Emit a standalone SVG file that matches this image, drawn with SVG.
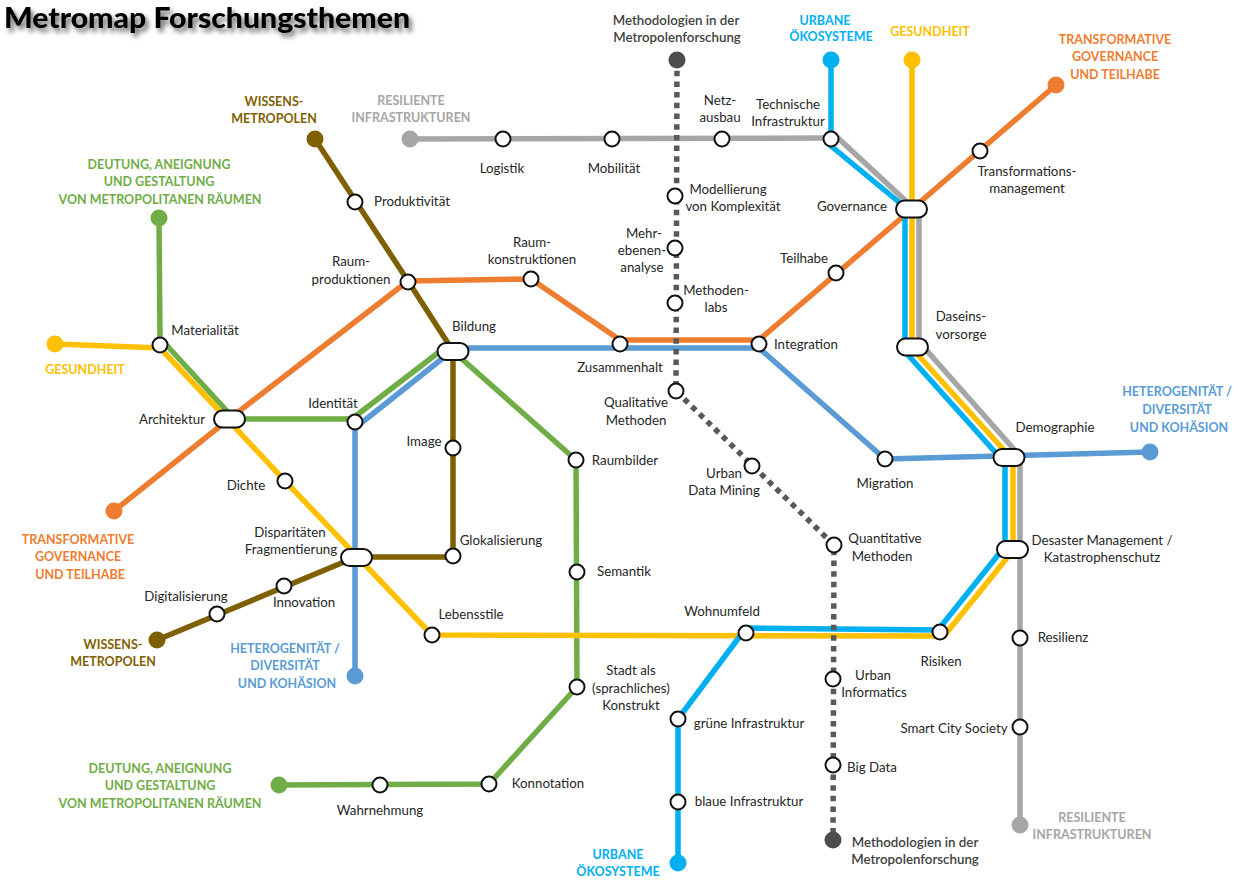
<svg xmlns="http://www.w3.org/2000/svg" width="1238" height="882" viewBox="0 0 1238 882">
<defs>
<style>
text{font-family:"Lato","Open Sans","Liberation Sans",sans-serif;font-size:13.3px;fill:#262626;text-anchor:middle}
.s{text-anchor:start}.e{text-anchor:end}
.b{font-weight:700;font-size:12.5px}
.ln{fill:none;stroke-width:5.5;stroke-linejoin:round}
.st{fill:#fff;stroke:#111;stroke-width:2}
.grey{stroke:#a6a6a6}.cy{stroke:#00b0f0}.ye{stroke:#ffc000}.or{stroke:#ed7d31}.bl{stroke:#5b9bd5}.gr{stroke:#70ad47}.br{stroke:#7f6000}
.dot{stroke:#595959;stroke-dasharray:5.5 5.2;stroke-width:5.5;fill:none}
.tg{fill:#a6a6a6}.tc{fill:#00b0f0}.ty{fill:#ffc000}.to{fill:#ed7d31}.tb{fill:#5b9bd5}.tgr{fill:#70ad47}.tbr{fill:#7f6000}
.td{font-weight:600;fill:#404040}
</style>
<filter id="sh" x="-5%" y="-30%" width="110%" height="170%"><feDropShadow dx="3" dy="4" stdDeviation="2.5" flood-color="#000" flood-opacity=".6"/></filter>
</defs>
<rect width="1238" height="882" fill="#fff"/>
<text x="4" y="28" class="s" style="font-size:28px;font-weight:900;fill:#000" filter="url(#sh)" textLength="406" lengthAdjust="spacingAndGlyphs">Metromap Forschungsthemen</text>
<g id="connectors">
<polyline class="ln or" points="1056,85 912,209 759,340 620,340 531,279 408,281 229,419 114,511"/>
<polyline class="ln br" points="315,139 408,281 453,351 453,557 356,557 157,640"/>
<polyline class="ln gr" points="159,218 160,338 226,410 229,419 355,419 357,415 443,349 453,351 463,360 576,460 577,687 489,784 279,785"/>
<polyline class="ln bl" points="1150,452 885,459 759,348 453,348 443,358 355,428 355,676"/>
<polyline class="ln grey" points="410,139 831,138 838,138 908,203 919,208 919,347 928,352 1012,447 1020,457 1020,825"/>
<polyline class="ln ye" points="912,60 912,347 918,355 1003,449 1013,458 1013,549 1007,558 944,636 432,635 285,481 229,421 160,348 55,344"/>
<polyline class="ln cy" points="831,60 831,146 900,203 905,209 905,347 908,355 995,452 1005,460 1005,549 998,555 938,630 746,628 678,719 678,863"/>
<polyline class="dot" points="677,60 676,391 834,545 833,840"/>
</g>
<g id="terminals">
<circle cx="677" cy="60" r="8.5" fill="#4d4d4d"/><circle cx="831" cy="60" r="8.5" fill="#00b0f0"/><circle cx="912" cy="60" r="8.5" fill="#ffc000"/><circle cx="1056" cy="85" r="8.5" fill="#ed7d31"/>
<circle cx="410" cy="139" r="8.5" fill="#a6a6a6"/><circle cx="315" cy="139" r="8.5" fill="#7f6000"/><circle cx="159" cy="218" r="8.5" fill="#70ad47"/><circle cx="55" cy="344" r="8.5" fill="#ffc000"/>
<circle cx="114" cy="511" r="8.5" fill="#ed7d31"/><circle cx="157" cy="640" r="8.5" fill="#7f6000"/><circle cx="355" cy="676" r="8.5" fill="#5b9bd5"/><circle cx="279" cy="785" r="8.5" fill="#70ad47"/>
<circle cx="678" cy="863" r="8.5" fill="#00b0f0"/><circle cx="833" cy="840" r="8.5" fill="#4d4d4d"/><circle cx="1020" cy="825" r="8.5" fill="#a6a6a6"/><circle cx="1150" cy="452" r="8.5" fill="#5b9bd5"/>
</g>
<g id="stations">
<circle class="st" cx="503" cy="139" r="7.5"/><circle class="st" cx="612" cy="139" r="7.5"/><circle class="st" cx="722" cy="139" r="7.5"/><circle class="st" cx="831" cy="139" r="7.5"/><circle class="st" cx="980" cy="151" r="7.5"/>
<circle class="st" cx="355" cy="202" r="7.5"/><circle class="st" cx="675" cy="196" r="7.5"/><circle class="st" cx="675" cy="248" r="7.5"/><circle class="st" cx="675" cy="303" r="7.5"/><circle class="st" cx="836" cy="273" r="7.5"/>
<circle class="st" cx="408" cy="282" r="7.5"/><circle class="st" cx="531" cy="279" r="7.5"/><circle class="st" cx="620" cy="344" r="7.5"/><circle class="st" cx="759" cy="344" r="7.5"/><circle class="st" cx="160" cy="345" r="7.5"/>
<circle class="st" cx="676" cy="391" r="7.5"/><circle class="st" cx="355" cy="422" r="7.5"/><circle class="st" cx="453" cy="448" r="7.5"/><circle class="st" cx="576" cy="460" r="7.5"/><circle class="st" cx="885" cy="459" r="7.5"/>
<circle class="st" cx="752" cy="466" r="7.5"/><circle class="st" cx="285" cy="481" r="7.5"/><circle class="st" cx="834" cy="545" r="7.5"/><circle class="st" cx="453" cy="556" r="7.5"/><circle class="st" cx="577" cy="572" r="7.5"/>
<circle class="st" cx="284" cy="586" r="7.5"/><circle class="st" cx="217" cy="614" r="7.5"/><circle class="st" cx="432" cy="635" r="7.5"/><circle class="st" cx="746" cy="633" r="7.5"/><circle class="st" cx="940" cy="632" r="7.5"/>
<circle class="st" cx="1020" cy="638" r="7.5"/><circle class="st" cx="833" cy="679" r="7.5"/><circle class="st" cx="577" cy="687" r="7.5"/><circle class="st" cx="678" cy="719" r="7.5"/><circle class="st" cx="1020" cy="727" r="7.5"/>
<circle class="st" cx="833" cy="765" r="7.5"/><circle class="st" cx="489" cy="784" r="7.5"/><circle class="st" cx="380" cy="785" r="7.5"/><circle class="st" cx="678" cy="802" r="7.5"/>
<rect class="st" x="896" y="200.500" width="31" height="17" rx="8.500"/><rect class="st" x="897" y="338.500" width="31" height="17" rx="8.500"/><rect class="st" x="993.500" y="449" width="31" height="17" rx="8.500"/><rect class="st" x="997" y="541" width="31" height="17" rx="8.500"/>
<rect class="st" x="214" y="410.500" width="31" height="17" rx="8.500"/><rect class="st" x="437.500" y="343" width="31" height="17" rx="8.500"/><rect class="st" x="341" y="549" width="31" height="17" rx="8.500"/>
</g>
<g id="labels">
<text class="td" x="676" y="25">Methodologien in der</text><text class="td" x="677" y="42">Metropolenforschung</text>
<text class="b tc" x="825" y="25">URBANE</text><text class="b tc" x="831" y="41">ÖKOSYSTEME</text>
<text class="b ty" x="930" y="36">GESUNDHEIT</text>
<text class="b to" x="1115" y="44">TRANSFORMATIVE</text><text class="b to" x="1115" y="61">GOVERNANCE</text><text class="b to" x="1115" y="79">UND TEILHABE</text>
<text class="b tbr" x="274" y="106">WISSENS-</text><text class="b tbr" x="274" y="123">METROPOLEN</text>
<text class="b tg" x="411" y="105">RESILIENTE</text><text class="b tg" x="411" y="122">INFRASTRUKTUREN</text>
<text x="502" y="173">Logistik</text><text x="614" y="173">Mobilität</text>
<text x="720" y="105">Netz-</text><text x="720" y="122">ausbau</text>
<text x="788" y="109">Technische</text><text x="788" y="126">Infrastruktur</text>
<text x="1027" y="176">Transformations-</text><text x="1027" y="193">management</text>
<text class="b tgr" x="159" y="169">DEUTUNG, ANEIGNUNG</text><text class="b tgr" x="159" y="186">UND GESTALTUNG</text><text class="b tgr" x="160" y="204">VON METROPOLITANEN RÄUMEN</text>
<text x="412" y="206">Produktivität</text>
<text x="728" y="194">Modellierung</text><text x="733" y="211">von Komplexität</text>
<text x="852" y="211">Governance</text>
<text x="644" y="238">Mehr-</text><text x="642" y="255">ebenen-</text><text x="642" y="272">analyse</text>
<text x="532" y="247">Raum-</text><text x="532" y="264">konstruktionen</text>
<text x="804" y="263">Teilhabe</text>
<text x="351" y="266">Raum-</text><text x="351" y="284">produktionen</text>
<text x="716" y="295">Methoden-</text><text x="716" y="312">labs</text>
<text x="961" y="321">Daseins-</text><text x="961" y="339">vorsorge</text>
<text x="205" y="335">Materialität</text>
<text x="474" y="331">Bildung</text>
<text x="806" y="349">Integration</text>
<text x="620" y="372">Zusammenhalt</text>
<text class="b ty" x="85" y="374">GESUNDHEIT</text>
<text class="b tb" x="1177" y="396">HETEROGENITÄT /</text><text class="b tb" x="1177" y="414">DIVERSITÄT</text><text class="b tb" x="1179" y="432">UND KOHÄSION</text>
<text x="1055" y="432">Demographie</text>
<text x="636" y="407">Qualitative</text><text x="636" y="425">Methoden</text>
<text x="172" y="424">Architektur</text>
<text x="333" y="408">Identität</text>
<text x="424" y="446">Image</text>
<text x="625" y="465">Raumbilder</text>
<text x="885" y="488">Migration</text>
<text x="724" y="478">Urban</text><text x="724" y="495">Data Mining</text>
<text x="246" y="490">Dichte</text>
<text class="b to" x="78" y="544">TRANSFORMATIVE</text><text class="b to" x="78" y="561">GOVERNANCE</text><text class="b to" x="80" y="579">UND TEILHABE</text>
<text x="290" y="537">Disparitäten</text><text x="291" y="554">Fragmentierung</text>
<text x="501" y="545">Glokalisierung</text>
<text x="885" y="543">Quantitative</text><text x="882" y="561">Methoden</text>
<text x="1102" y="545">Desaster Management /</text><text x="1102" y="562">Katastrophenschutz</text>
<text x="624" y="576">Semantik</text>
<text x="186" y="601">Digitalisierung</text>
<text x="304" y="607">Innovation</text>
<text x="471" y="619">Lebensstile</text>
<text x="722" y="616">Wohnumfeld</text>
<text x="1063" y="642">Resilienz</text>
<text x="941" y="666">Risiken</text>
<text class="b tbr" x="113" y="649">WISSENS-</text><text class="b tbr" x="113" y="666">METROPOLEN</text>
<text class="b tb" x="285" y="653">HETEROGENITÄT /</text><text class="b tb" x="285" y="670">DIVERSITÄT</text><text class="b tb" x="287" y="688">UND KOHÄSION</text>
<text x="631" y="675">Stadt als</text><text x="631" y="693">(sprachliches)</text><text x="631" y="710">Konstrukt</text>
<text x="873" y="680">Urban</text><text x="874" y="697">Informatics</text>
<text x="749" y="728">grüne Infrastruktur</text>
<text x="954" y="733">Smart City Society</text>
<text x="872" y="772">Big Data</text>
<text class="b tgr" x="160" y="773">DEUTUNG, ANEIGNUNG</text><text class="b tgr" x="160" y="790">UND GESTALTUNG</text><text class="b tgr" x="160" y="808">VON METROPOLITANEN RÄUMEN</text>
<text x="548" y="788">Konnotation</text>
<text x="380" y="815">Wahrnehmung</text>
<text x="749" y="806">blaue Infrastruktur</text>
<text class="b tg" x="1092" y="822">RESILIENTE</text><text class="b tg" x="1092" y="839">INFRASTRUKTUREN</text>
<text class="td" x="915" y="847">Methodologien in der</text><text class="td" x="915" y="864">Metropolenforschung</text>
<text class="b tc" x="618" y="859">URBANE</text><text class="b tc" x="618" y="876">ÖKOSYSTEME</text>
</g>
</svg>
